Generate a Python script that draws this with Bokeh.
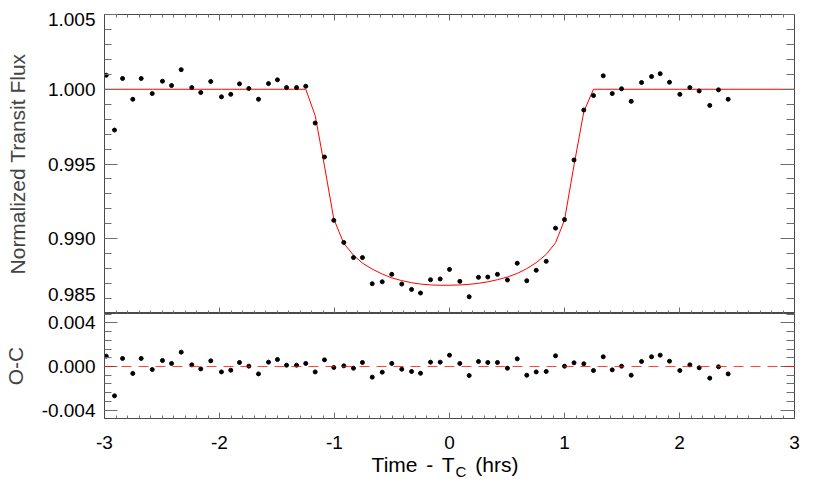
import numpy as np
from bokeh.plotting import figure
from bokeh.models import LinearAxis, FixedTicker, PrintfTickFormatter, Span, Range1d, Div
from bokeh.layouts import column
from bokeh.embed import file_html
from bokeh.resources import INLINE

# ---------------- data ----------------
time_hrs = [-2.985, -2.913, -2.843, -2.754, -2.681, -2.585, -2.496, -2.417, -2.333, -2.241,
            -2.163, -2.076, -1.983, -1.902, -1.826, -1.745, -1.661, -1.574, -1.496, -1.417,
            -1.330, -1.250, -1.168, -1.087, -1.006, -0.919, -0.835, -0.757, -0.672, -0.585,
            -0.502, -0.415, -0.330, -0.252, -0.165, -0.081, 0.000, 0.090, 0.171, 0.252,
            0.333, 0.417, 0.504, 0.589, 0.672, 0.754, 0.841, 0.922, 1.000, 1.083,
            1.168, 1.252, 1.337, 1.415, 1.496, 1.580, 1.670, 1.757, 1.832, 1.913,
            2.003, 2.090, 2.171, 2.263, 2.339, 2.423]

flux = [1.00094, 0.99727, 1.00072, 0.99933, 1.00072, 0.99971, 1.00054, 1.00025, 1.00131, 1.00011,
        0.99978, 1.00052, 0.99949, 0.99966, 1.00036, 1.00005, 0.99933, 1.00038, 1.00063, 1.00011,
        1.00011, 1.00020, 0.99774, 0.99547, 0.99123, 0.98975, 0.98874, 0.98874, 0.98699, 0.98712,
        0.98762, 0.98697, 0.98661, 0.98637, 0.98726, 0.98731, 0.98795, 0.98715, 0.98612, 0.98742,
        0.98744, 0.98762, 0.98724, 0.98836, 0.98719, 0.98789, 0.98849, 0.99071, 0.99128, 0.99527,
        0.99861, 0.99958, 1.00090, 0.99971, 1.00003, 0.99919, 1.00045, 1.00085, 1.00104, 1.00047,
        0.99966, 1.00011, 0.99989, 0.99892, 0.99996, 0.99933]

model = [1.0, 1.0, 1.0, 1.0, 1.0, 1.0, 1.0, 1.0, 1.0, 1.0,
         1.0, 1.0, 1.0, 1.0, 1.0, 1.0, 1.0, 1.0, 1.0, 1.0,
         1.0, 1.0, 0.99824, 0.99486, 0.99132, 0.98969, 0.98890, 0.98837, 0.98797, 0.98764,
         0.98738, 0.98720, 0.98706, 0.98697, 0.98691, 0.98689, 0.98689, 0.98691, 0.98695, 0.98702,
         0.98712, 0.98726, 0.98744, 0.98768, 0.98800, 0.98840, 0.98895, 0.98973, 0.99125, 0.99493,
         0.99850, 1.0, 1.0, 1.0, 1.0, 1.0, 1.0, 1.0, 1.0, 1.0,
         1.0, 1.0, 1.0, 1.0, 1.0, 1.0]

# the model continues flat out to the plot edges
model_start = [-3.0, 1.0]
model_end = [3.0, 1.0]

residual = [0.00095, -0.0027, 0.00074, -0.00064, 0.00074, -0.00028, 0.00055, 0.00028, 0.00132, 0.00015,
            -0.00022, 0.00052, -0.0005, -0.00034, 0.00037, 0.00003, -0.00068, 0.0004, 0.00064, 0.00012,
            0.00012, 0.00028, -0.0005, 0.00061, -0.00009, 0.00006, -0.00016, 0.00037, -0.00098, -0.00052,
            0.00028, -0.00025, -0.00046, -0.00062, 0.0004, 0.0004, 0.00104, 0.00028, -0.00083, 0.00046,
            0.00037, 0.00037, -0.00016, 0.0007, -0.0008, -0.0005, -0.00046, 0.00098, 0.00003, 0.00034,
            0.00025, -0.00037, 0.00089, -0.00031, 0.00003, -0.0008, 0.00046, 0.00089, 0.00104, 0.00049,
            -0.00037, 0.00015, -0.00012, -0.00107, -0.00003, -0.00068]

x_ticks = [-3, -2, -1, 0, 1, 2, 3]
flux_ticks = [0.985, 0.990, 0.995, 1.000, 1.005]
oc_ticks = [-0.004, 0.0, 0.004]

x_title_main = "Time - T"
x_title_sub = "C"
x_title_tail = " (hrs)"
flux_label = "Normalized Transit Flux"
oc_label = "O-C"

# ---------------- styling ----------------
FONT = "Liberation Sans"
AXC = "#4a4a4a"
TKC = "#6e6e6e"
TICK_FS = "19px"
LAB_FS = "21px"
ML = 100  # left border

x_minor = [round(v, 2) for v in np.arange(-3.0, 3.0001, 0.1)]
flux_minor = [round(v, 4) for v in np.arange(0.985, 1.0051, 0.001)]
oc_minor = [round(v, 5) for v in np.arange(-0.0048, 0.00481, 0.0008)]


def style_axis(ax, tin, tmin, show_labels):
    ax.axis_line_color = AXC
    ax.major_tick_line_color = TKC
    ax.minor_tick_line_color = TKC
    ax.major_tick_in = tin
    ax.major_tick_out = 0
    ax.minor_tick_in = tmin
    ax.minor_tick_out = 0
    if show_labels:
        ax.major_label_text_font = FONT
        ax.major_label_text_font_size = TICK_FS
        ax.major_label_text_color = "black"
    else:
        ax.major_label_text_font_size = "0px"
        ax.major_label_text_color = None
        ax.major_label_standoff = 0


def base_fig(frame_h, y_rng, x_rng, mb_top, mb_bottom):
    p = figure(frame_width=690, frame_height=frame_h, x_range=x_rng, y_range=y_rng,
               output_backend="svg", toolbar_location=None,
               min_border_left=ML, min_border_right=20,
               min_border_top=mb_top, min_border_bottom=mb_bottom)
    p.grid.visible = False
    p.outline_line_color = AXC
    p.outline_line_width = 1
    p.background_fill_color = "white"
    p.border_fill_color = "white"
    return p


# ---------------- top panel ----------------
xr = Range1d(x_ticks[0], x_ticks[-1])
top = base_fig(299, Range1d(flux_ticks[0], flux_ticks[-1]), xr, 14, 0)

top.xaxis.ticker = FixedTicker(ticks=x_ticks, minor_ticks=x_minor)
style_axis(top.xaxis[0], 6, 3, False)
ax_above = LinearAxis(ticker=FixedTicker(ticks=x_ticks, minor_ticks=x_minor))
style_axis(ax_above, 6, 3, False)
top.add_layout(ax_above, "above")

top.yaxis.ticker = FixedTicker(ticks=flux_ticks, minor_ticks=flux_minor)
top.yaxis.formatter = PrintfTickFormatter(format="%.3f")
style_axis(top.yaxis[0], 13, 7, True)
top.yaxis.major_label_standoff = 9
top.yaxis.major_label_text_line_height = 0.4
# the end labels sit just inside the frame, as in the reference
lo_txt = "%.3f" % flux_ticks[0]
hi_txt = "%.3f" % flux_ticks[-1]
top.yaxis.major_label_overrides = {
    flux_ticks[0]: lo_txt + "\n",
    flux_ticks[-1]: "\n" + hi_txt,
    lo_txt: lo_txt + "\n",
    hi_txt: "\n" + hi_txt,
}
top.yaxis.axis_label = flux_label
top.yaxis.axis_label_text_font = FONT
top.yaxis.axis_label_text_font_size = LAB_FS
top.yaxis.axis_label_text_font_style = "normal"
top.yaxis.axis_label_standoff = 16
ax_right = LinearAxis(ticker=FixedTicker(ticks=flux_ticks, minor_ticks=flux_minor))
style_axis(ax_right, 14, 8, False)
top.add_layout(ax_right, "right")

mx = [model_start[0]] + time_hrs + [model_end[0]]
my = [model_start[1]] + model + [model_end[1]]
top.line(mx, my, line_color="red", line_width=1.0)
top.scatter(time_hrs, flux, marker="circle", size=4, fill_color="black", line_color="black")

# ---------------- bottom panel ----------------
oc_range = Range1d(-0.00478, 0.00487)
bot = base_fig(105, oc_range, xr, 0, 36)

bot.xaxis.ticker = FixedTicker(ticks=x_ticks, minor_ticks=x_minor)
bot.xaxis.formatter = PrintfTickFormatter(format="%d")
style_axis(bot.xaxis[0], 6, 3, True)
bot.xaxis.major_label_standoff = 17

bot.yaxis.ticker = FixedTicker(ticks=oc_ticks, minor_ticks=oc_minor)
bot.yaxis.formatter = PrintfTickFormatter(format="%.3f")
style_axis(bot.yaxis[0], 13, 7, True)
bot.yaxis.major_label_standoff = 9
bot.yaxis.axis_label = oc_label
bot.yaxis.axis_label_text_font = FONT
bot.yaxis.axis_label_text_font_size = LAB_FS
bot.yaxis.axis_label_text_font_style = "normal"
bot.yaxis.axis_label_standoff = 12
ax_right2 = LinearAxis(ticker=FixedTicker(ticks=oc_ticks, minor_ticks=oc_minor))
style_axis(ax_right2, 14, 8, False)
bot.add_layout(ax_right2, "right")

bot.add_layout(Span(location=oc_ticks[1], dimension="width", line_color="red",
                    line_alpha=0.75, line_width=1, line_dash="10 7"))
bot.scatter(time_hrs, residual, marker="circle", size=4, fill_color="black", line_color="black")

# x-axis title with a subscript C, centred under the frame
title_html = (
    '<div style="width:690px;text-align:center;font-family:\'Liberation Sans\';'
    'font-size:21px;line-height:22px;word-spacing:3px;color:black;">'
    + x_title_main
    + '<span style="font-size:15px;position:relative;top:5px;margin-left:1px;">' + x_title_sub + '</span>'
    + x_title_tail.replace(" ", "&nbsp;", 1)
    + '</div>'
)
xtitle = Div(text=title_html, width=690, height=28, margin=(0, 0, 0, ML))

layout = column(top, bot, xtitle, spacing=0)
open("out.html", "w").write(file_html(layout, INLINE))
